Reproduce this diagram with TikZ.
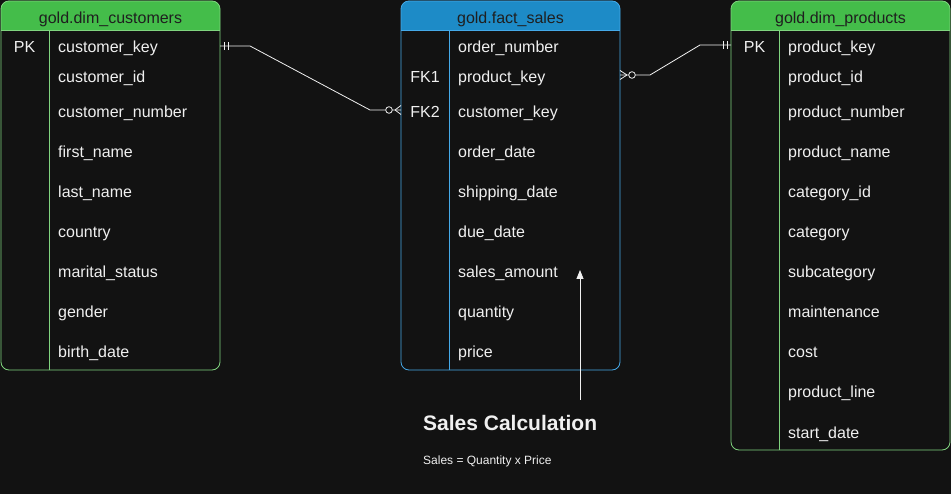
\documentclass[tikz,border=0pt]{standalone}
\usepackage{fontspec}
\setmainfont{Liberation Sans}
\usetikzlibrary{arrows.meta}

\definecolor{bgdark}{HTML}{121212}
\definecolor{txtlight}{HTML}{F0F0F0}
\definecolor{hdgreen}{HTML}{44BD4A}
\definecolor{hdblue}{HTML}{1D8BC7}
\definecolor{lngreen}{HTML}{80D47F}
\definecolor{lnblue}{HTML}{45A9E8}

\tikzset{
  field/.style={anchor=base west, inner sep=0pt, text=txtlight, font=\fontsize{16}{19}\selectfont},
  keytag/.style={anchor=base, inner sep=0pt, text=txtlight, font=\fontsize{16}{19}\selectfont},
  tabletitle/.style={anchor=base, inner sep=0pt, text=black!88, font=\fontsize{16}{19}\selectfont},
  rel/.style={draw=txtlight, line width=0.8pt},
}

\begin{document}
\begin{tikzpicture}[x=1pt,y=-1pt]
        \fill[bgdark] (0,0) rectangle (951,494);

        \fill[hdgreen] (1,30) [rounded corners=8] -- (1,1) -- (220,1) [sharp corners] -- (220,30) -- cycle;
        \draw[lngreen, line width=0.8pt, rounded corners=8] (1,1) rectangle (220,370);
        \draw[lngreen, line width=0.8pt] (1,30) -- (220,30) (49,30) -- (49,370);
        \node[tabletitle] (custtitle) at (110.5,24) {gold.dim\_customers};
        \node[keytag] (custpk) at (24.5,53) {PK};
        \foreach \n/\y/\t in {1/53/customer\_key, 2/83/customer\_id, 3/118/customer\_number,
            4/158/first\_name, 5/198/last\_name, 6/238/country, 7/278/marital\_status,
            8/318/gender, 9/358/birth\_date}
          \node[field] (cust\n) at (58,\y) {\t};

        \fill[hdblue] (401,30) [rounded corners=8] -- (401,1) -- (620,1) [sharp corners] -- (620,30) -- cycle;
        \draw[lnblue, line width=0.8pt, rounded corners=8] (401,1) rectangle (620,370);
        \draw[lnblue, line width=0.8pt] (401,30) -- (620,30) (449,30) -- (449,370);
        \node[tabletitle] (salestitle) at (510.5,24) {gold.fact\_sales};
        \node[keytag] (salesfk1) at (425,83) {FK1};
        \node[keytag] (salesfk2) at (425,118) {FK2};
        \foreach \n/\y/\t in {1/53/order\_number, 2/83/product\_key, 3/118/customer\_key,
            4/158/order\_date, 5/198/shipping\_date, 6/238/due\_date, 7/278/sales\_amount,
            8/318/quantity, 9/358/price}
          \node[field] (sales\n) at (458,\y) {\t};

        \fill[hdgreen] (731,30) [rounded corners=8] -- (731,1) -- (950,1) [sharp corners] -- (950,30) -- cycle;
        \draw[lngreen, line width=0.8pt, rounded corners=8] (731,1) rectangle (950,450);
        \draw[lngreen, line width=0.8pt] (731,30) -- (950,30) (779,30) -- (779,450);
        \node[tabletitle] (prodtitle) at (840.5,24) {gold.dim\_products};
        \node[keytag] (prodpk) at (754.5,53) {PK};
        \foreach \n/\y/\t in {1/53/product\_key, 2/83/product\_id, 3/118/product\_number,
            4/158/product\_name, 5/198/category\_id, 6/238/category, 7/278/subcategory,
            8/318/maintenance, 9/358/cost, 10/398/product\_line, 11/438/start\_date}
          \node[field] (prod\n) at (788,\y) {\t};

        \coordinate (custkey) at (220,46);
        \coordinate (salescust) at (401,110);
        \coordinate (salesprod) at (620,75);
        \coordinate (prodkey) at (731,45);

        \draw[rel] (custkey) -- ([xshift=30pt]custkey) -- ([xshift=-31pt]salescust) -- (salescust);
        \draw[rel] (custkey) ++(4,-4) -- ++(0,8) ++(4,0) -- ++(0,-8);
        \draw[rel] (salescust) ++(-6,0) -- ++(6,-4.5) (salescust) ++(-6,0) -- ++(6,4.5);
        \draw[rel, fill=bgdark] (salescust) ++(-12,0) circle (3.3);

        \draw[rel] (salesprod) -- ([xshift=30pt]salesprod) -- ([xshift=-31pt]prodkey) -- (prodkey);
        \draw[rel] (prodkey) ++(-8,-4) -- ++(0,8) ++(4,0) -- ++(0,-8);
        \draw[rel] (salesprod) ++(7,0) -- ++(-7,-4.5) (salesprod) ++(7,0) -- ++(-7,4.5);
        \draw[rel, fill=bgdark] (salesprod) ++(12,0) circle (3.3);

        \node[anchor=base west, inner sep=0pt, text=txtlight, font=\fontsize{21}{25}\selectfont\bfseries] (calctitle) at (423,430.5) {Sales Calculation};
        \node[anchor=base west, inner sep=0pt, text=txtlight, font=\fontsize{12}{14}\selectfont] (calcrule) at (423,464.5) {Sales = Quantity x Price};
        \coordinate (calcfoot) at (580,400);
        \coordinate (amounttip) at (580,270);
        \draw[txtlight, line width=0.8pt, -{Triangle[length=9pt,width=7pt]}] (calcfoot) -- (amounttip);
      \end{tikzpicture}
\end{document}
